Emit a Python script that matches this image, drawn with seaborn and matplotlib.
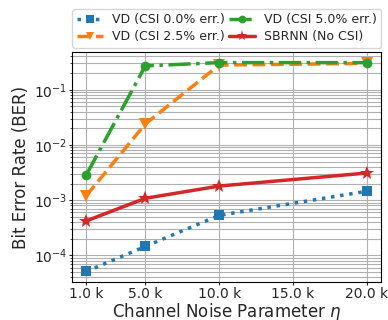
import matplotlib
matplotlib.use("Agg")
import matplotlib.pyplot as plt
from matplotlib.ticker import FuncFormatter
import seaborn as sns
import pandas as pd

eta = [1000, 5000, 10000, 20000]
ber_csi00 = [5.1e-5, 1.45e-4, 5.3e-4, 1.45e-3]
ber_csi25 = [1.2e-3, 2.4e-2, 0.28, 0.30]
ber_csi50 = [2.85e-3, 0.27, 0.31, 0.31]
ber_sbrnn = [4.2e-4, 1.08e-3, 1.8e-3, 3.1e-3]
labels = ["VD (CSI 0.0% err.)", "VD (CSI 2.5% err.)", "VD (CSI 5.0% err.)", "SBRNN (No CSI)"]
xticks = [1000, 5000, 10000, 15000, 20000]

sns.set_style("ticks")
plt.rcParams['font.family'] = ['DejaVu Sans']

fig = plt.figure(figsize=(3.88, 3.2), dpi=100)
ax = fig.add_axes([0.186, 0.119, 0.796, 0.718])

series = [ber_csi00, ber_csi25, ber_csi50, ber_sbrnn]
colors = ["#1f77b4", "#ff7f0e", "#2ca02c", "#d62728"]
markers = ["s", "v", "o", "*"]
styles = [":", "--", "-.", "-"]
msizes = [7, 8, 7, 10]

for vals, lab, c, m, ls, ms in zip(series, labels, colors, markers, styles, msizes):
    df = pd.DataFrame({"eta": eta, "ber": vals})
    sns.lineplot(data=df, x="eta", y="ber", ax=ax, color=c, marker=m, linestyle=ls,
                 linewidth=2.5, markersize=ms, markeredgewidth=0, label=lab)

ax.set_yscale("log")
ax.set_xticks(xticks)
ax.xaxis.set_major_formatter(FuncFormatter(lambda v, p: f"{v/1000:.1f} k"))
ax.grid(True, which="major", color="#b0b0b0", linewidth=0.8)
ax.grid(True, which="minor", axis="y", color="#b0b0b0", linewidth=0.8)
ax.tick_params(axis="both", which="major", labelsize=10, length=2, pad=1.5)
ax.tick_params(axis="y", which="minor", length=1.2)
ax.set_xlabel(r"Channel Noise Parameter $\eta$", fontsize=12, labelpad=0.5)
ax.set_ylabel("Bit Error Rate (BER)", fontsize=12, labelpad=3)
for s in ax.spines.values():
    s.set_color("black")

ax.legend(loc="lower left", bbox_to_anchor=(0, 1.02, 1, 0.2), mode="expand", ncol=2,
          fontsize=9, borderaxespad=0, handlelength=2.1, columnspacing=0.6, handletextpad=0.7,
          markerscale=0.8, frameon=True, labelspacing=0.3, borderpad=0.35)

fig.savefig("out.png", dpi=100)
